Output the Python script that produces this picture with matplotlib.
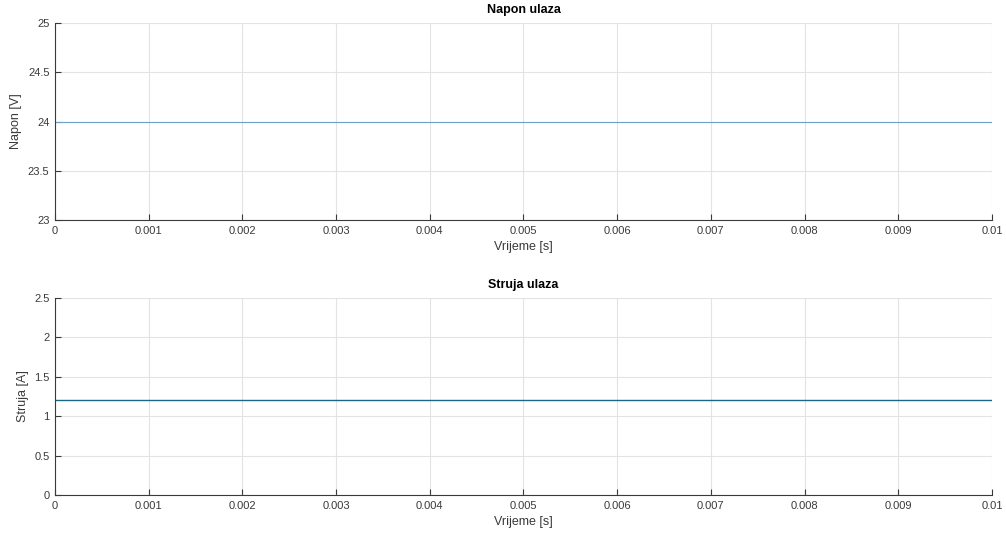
import matplotlib.pyplot as plt

# data
vrijeme = [0.0, 0.01]
napon = [24.0, 24.0]
struja = [1.2, 1.2]

x_ticks = [0, 0.001, 0.002, 0.003, 0.004, 0.005, 0.006, 0.007, 0.008, 0.009, 0.01]
x_tick_labels = ['0', '0.001', '0.002', '0.003', '0.004', '0.005', '0.006', '0.007', '0.008', '0.009', '0.01']
napon_ticks = [23, 23.5, 24, 24.5, 25]
napon_tick_labels = ['23', '23.5', '24', '24.5', '25']
struja_ticks = [0, 0.5, 1, 1.5, 2, 2.5]
struja_tick_labels = ['0', '0.5', '1', '1.5', '2', '2.5']

plt.rcParams['font.family'] = ['Liberation Sans', 'DejaVu Sans']

fig = plt.figure(figsize=(10.06, 5.35), dpi=100)
ax1 = fig.add_axes([0.0547, 0.5888, 0.9313, 0.368])
ax2 = fig.add_axes([0.0547, 0.0748, 0.9313, 0.368])


def style(ax, yticks, ylabels, ylim, title, ylabel):
    ax.set_xlim(0, 0.01)
    ax.set_ylim(*ylim)
    ax.set_xticks(x_ticks)
    ax.set_xticklabels(x_tick_labels)
    ax.set_yticks(yticks)
    ax.set_yticklabels(ylabels)
    ax.grid(True, color='#e3e3e3', linewidth=0.8)
    ax.set_axisbelow(True)
    for s in ['top', 'right']:
        ax.spines[s].set_visible(False)
    for s in ['left', 'bottom']:
        ax.spines[s].set_color('#3a3a3a')
        ax.spines[s].set_linewidth(0.8)
    ax.tick_params(direction='in', length=4, width=0.8, colors='#3a3a3a',
                   labelsize=8, labelcolor='#3a3a3a', pad=4)
    ax.set_title(title, fontsize=9, fontweight='bold', pad=7)
    ax.set_xlabel('Vrijeme [s]', fontsize=9, color='#3a3a3a', labelpad=4)
    ax.set_ylabel(ylabel, fontsize=9, color='#3a3a3a', labelpad=4)


ax1.plot(vrijeme, napon, color='#6f9fc4', linewidth=0.8)
style(ax1, napon_ticks, napon_tick_labels, (23, 25), 'Napon ulaza', 'Napon [V]')

ax2.plot(vrijeme, struja, color='#17698a', linewidth=1.0)
style(ax2, struja_ticks, struja_tick_labels, (0, 2.5), 'Struja ulaza', 'Struja [A]')

fig.savefig('out.png', dpi=100)
